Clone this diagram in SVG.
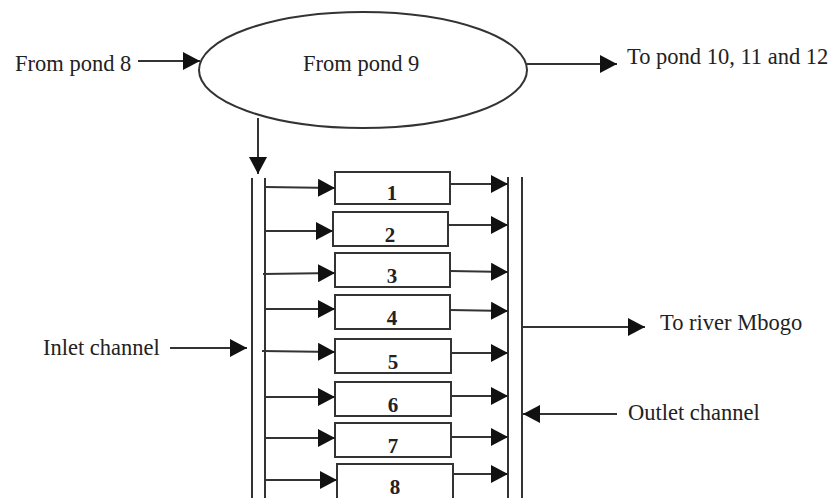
<svg xmlns="http://www.w3.org/2000/svg" width="830" height="498" viewBox="0 0 830 498">
<defs>
<marker id="ah" markerUnits="userSpaceOnUse" markerWidth="17" markerHeight="18" refX="17" refY="9" orient="auto">
<path d="M0,0 L17,9 L0,18 z" fill="#111"/>
</marker>
<style>
.ln{stroke:#333;stroke-width:2;fill:none}
.ar{stroke:#333;stroke-width:2;fill:none;marker-end:url(#ah)}
.lbl{font-family:"Liberation Serif","Times New Roman",serif;font-size:22.5px;fill:#222}
.num{font-family:"Liberation Serif","Times New Roman",serif;font-size:21px;font-weight:bold;fill:#222;text-anchor:middle}
.box{fill:#fff;stroke:#333;stroke-width:2}
</style>
</defs>
<rect width="830" height="498" fill="#fff"/>

<g id="pond9">
<ellipse cx="363" cy="70" rx="164" ry="58" class="ln"/>
<text x="303" y="71" class="lbl">From pond 9</text>
</g>
<g id="from-pond8"><text x="15" y="71" class="lbl">From pond 8</text></g>
<g id="to-pond10"><text x="627" y="64" class="lbl">To pond 10, 11 and 12</text></g>
<g id="inlet-label"><text x="43" y="355" class="lbl">Inlet channel</text></g>
<g id="river-label"><text x="660" y="330" class="lbl">To river Mbogo</text></g>
<g id="outlet-label"><text x="628" y="420" class="lbl">Outlet channel</text></g>

<g id="inlet-channel">
<line x1="252" y1="178" x2="252" y2="498" class="ln"/>
<line x1="265" y1="178" x2="265" y2="498" class="ln"/>
</g>
<g id="outlet-channel">
<line x1="508" y1="177" x2="508" y2="498" class="ln"/>
<line x1="522" y1="177" x2="522" y2="498" class="ln"/>
</g>

<g id="pond1"><rect x="335" y="172" width="115" height="32" class="box"/><text x="392" y="200" class="num">1</text></g>
<g id="pond2"><rect x="333" y="212" width="115" height="34" class="box"/><text x="390" y="242" class="num">2</text></g>
<g id="pond3"><rect x="335" y="253" width="115" height="34" class="box"/><text x="392" y="283" class="num">3</text></g>
<g id="pond4"><rect x="335" y="295" width="115" height="34" class="box"/><text x="392" y="325" class="num">4</text></g>
<g id="pond5"><rect x="335" y="339" width="116" height="34" class="box"/><text x="393" y="369" class="num">5</text></g>
<g id="pond6"><rect x="335" y="382" width="116" height="34" class="box"/><text x="393" y="412" class="num">6</text></g>
<g id="pond7"><rect x="335" y="423" width="116" height="34" class="box"/><text x="393" y="453" class="num">7</text></g>
<g id="pond8"><rect x="337" y="464" width="116" height="36" class="box"/><text x="395" y="494" class="num">8</text></g>

<g id="connectors">
<line x1="138" y1="61" x2="200" y2="61" class="ar"/>
<line x1="527" y1="64" x2="617" y2="64" class="ar"/>
<line x1="258" y1="118" x2="258" y2="174" class="ar"/>
<line x1="265" y1="187" x2="335" y2="188" class="ar"/>
<line x1="265" y1="231" x2="333" y2="231" class="ar"/>
<line x1="263" y1="274" x2="335" y2="273" class="ar"/>
<line x1="265" y1="309" x2="335" y2="309" class="ar"/>
<line x1="262" y1="351" x2="335" y2="352" class="ar"/>
<line x1="265" y1="397" x2="335" y2="397" class="ar"/>
<line x1="265" y1="438" x2="335" y2="438" class="ar"/>
<line x1="265" y1="480" x2="337" y2="480" class="ar"/>
<line x1="450" y1="184" x2="508" y2="184" class="ar"/>
<line x1="448" y1="225" x2="508" y2="225" class="ar"/>
<line x1="450" y1="271" x2="508" y2="272" class="ar"/>
<line x1="450" y1="310" x2="508" y2="311" class="ar"/>
<line x1="451" y1="353" x2="508" y2="353" class="ar"/>
<line x1="451" y1="396" x2="508" y2="396" class="ar"/>
<line x1="451" y1="437" x2="508" y2="437" class="ar"/>
<line x1="453" y1="474" x2="508" y2="474" class="ar"/>
<line x1="170" y1="348" x2="247" y2="348" class="ar"/>
<line x1="522" y1="327" x2="645" y2="327" class="ar"/>
<line x1="617" y1="414" x2="523" y2="414" class="ar"/>
</g>
</svg>
